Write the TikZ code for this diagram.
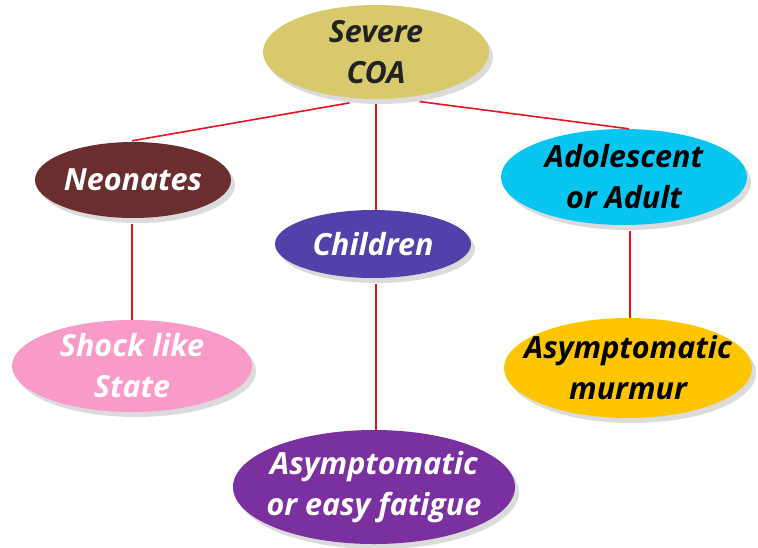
\documentclass[tikz,border=0pt]{standalone}
\usepackage{fontspec}
\setmainfont{Open Sans}
\usetikzlibrary{shapes.geometric,shadows,calc}
\definecolor{sevc}{HTML}{D8CA6C}
\definecolor{neoc}{HTML}{6A2E2E}
\definecolor{chic}{HTML}{5340A8}
\definecolor{adoc}{HTML}{08C6F0}
\definecolor{shoc}{HTML}{F99BC8}
\definecolor{fatc}{HTML}{7B30A0}
\definecolor{murc}{HTML}{FFC500}
\definecolor{linkc}{HTML}{E8141E}
\definecolor{darktext}{HTML}{222222}
\begin{document}
\begin{tikzpicture}[x=1pt,y=-1pt,
  bub/.style={ellipse, inner xsep=-24pt, inner ysep=-8pt, align=center,
    font=\bfseries\itshape\fontsize{30.5}{41}\selectfont,
    drop shadow={shadow xshift=4pt, shadow yshift=-5pt, fill=black!14, opacity=1}},
  link/.style={draw=linkc, line width=1.6pt}]
\useasboundingbox (0,0) rectangle (758,547);
\node[bub, fill=sevc, text=darktext, minimum width=226pt, minimum height=94pt] (sev) at (376,52) {Severe\\COA};
\node[bub, fill=neoc, text=white, minimum width=196pt, minimum height=76pt] (neo) at (133,180) {Neonates};
\node[bub, fill=chic, text=white, minimum width=196pt, minimum height=68pt] (chi) at (373,244) {Children};
\node[bub, fill=adoc, text=black, minimum width=246pt, minimum height=96pt] (ado) at (624,177) {Adolescent\\or Adult};
\node[bub, fill=shoc, text=white, minimum width=240pt, minimum height=92pt] (sho) at (132,366) {Shock like\\State};
\node[bub, fill=fatc, text=white, minimum width=282pt, minimum height=114pt] (fat) at (374,487) {Asymptomatic\\or easy fatigue};
\node[bub, fill=murc, text=black, minimum width=248pt, minimum height=100pt] (mur) at (628,368) {Asymptomatic\\murmur};
\draw[link] ($(sev.240)+(0,5)$) -- ($(neo.north)+(-1,-1)$);
\draw[link] ($(sev.south)+(0,5)$) -- ($(chi.north)+(3,0)$);
\draw[link] ($(sev.315)+(0,6)$) -- ($(ado.north)+(5,0)$);
\draw[link] ($(neo.south)+(-1,6)$) -- ($(sho.north)+(0,0)$);
\draw[link] ($(chi.south)+(3,6)$) -- ($(fat.north)+(2,0)$);
\draw[link] ($(ado.south)+(6,6)$) -- ($(mur.north)+(2,0)$);
\end{tikzpicture}
\end{document}
